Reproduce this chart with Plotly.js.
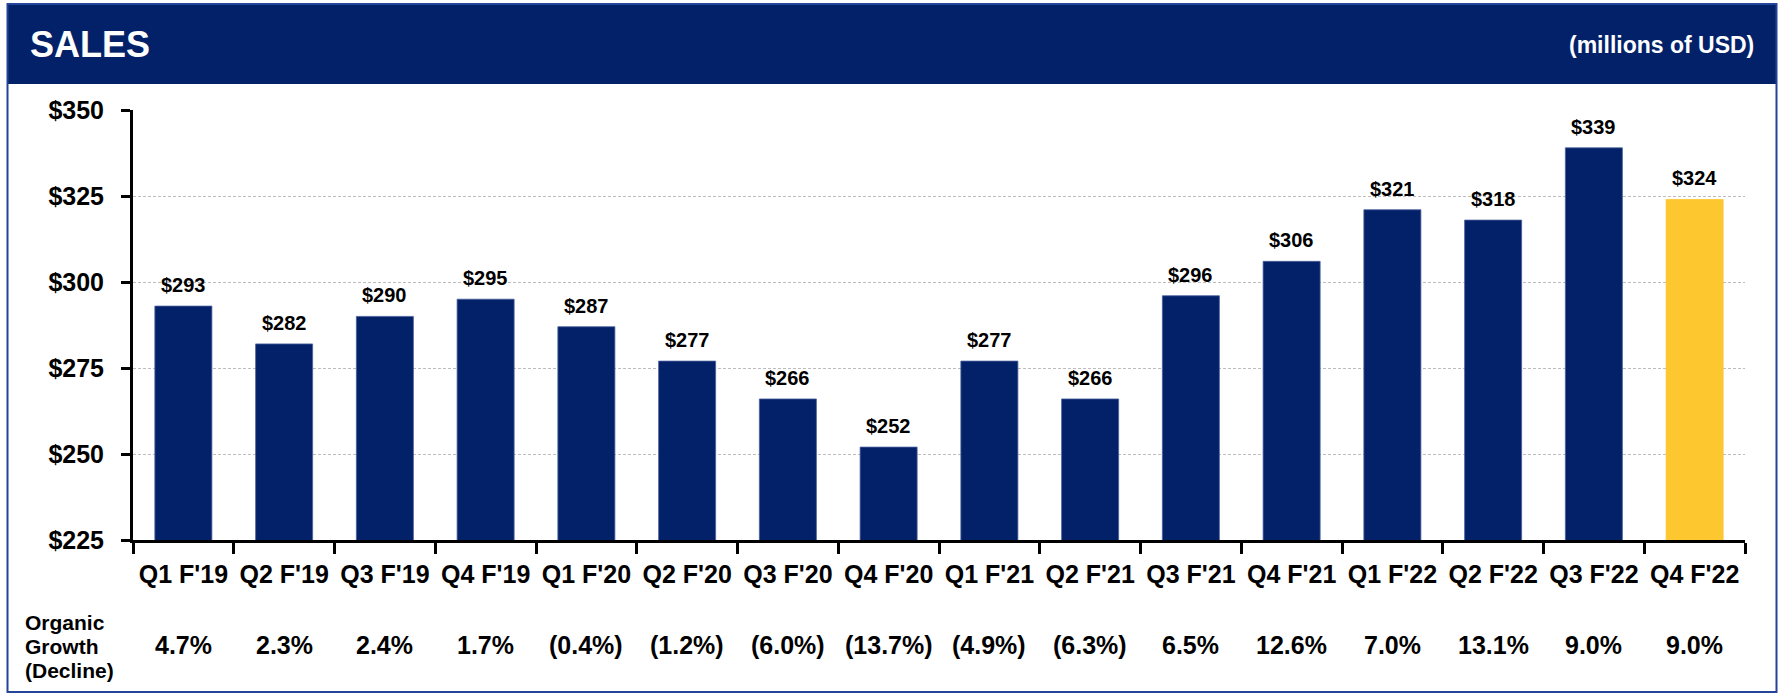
<!DOCTYPE html>
<html>
<head>
<meta charset="utf-8">
<script src="https://cdn.plot.ly/plotly-3.0.1.min.js"></script>
<style>
  html, body { margin: 0; padding: 0; background: #ffffff; }
  #chart { width: 1781px; height: 695px; }
</style>
</head>
<body>
<div id="chart"></div>
<script>
// ---- data ----
const categories = ["Q1 F'19", "Q2 F'19", "Q3 F'19", "Q4 F'19",
                    "Q1 F'20", "Q2 F'20", "Q3 F'20", "Q4 F'20",
                    "Q1 F'21", "Q2 F'21", "Q3 F'21", "Q4 F'21",
                    "Q1 F'22", "Q2 F'22", "Q3 F'22", "Q4 F'22"];
const sales = [293, 282, 290, 295, 287, 277, 266, 252, 277, 266, 296, 306, 321, 318, 339, 324];
const organicGrowth = ["4.7%", "2.3%", "2.4%", "1.7%", "(0.4%)", "(1.2%)", "(6.0%)", "(13.7%)",
                       "(4.9%)", "(6.3%)", "6.5%", "12.6%", "7.0%", "13.1%", "9.0%", "9.0%"];
const yTickValues = [225, 250, 275, 300, 325, 350];
const rowLabelLines = ["Organic", "Growth", "(Decline)"];

// ---- style ----
const NAVY = '#032169';
const GOLD = '#FCC72F';
const ARIAL = '"Liberation Sans", Arial, sans-serif';

const W = 1781, H = 695;
const M = { l: 133, r: 36, t: 110, b: 155 };
const PW = W - M.l - M.r, PH = H - M.t - M.b;
const px = x => (x - M.l) / PW;          // pixel x -> paper x
const py = y => (H - M.b - y) / PH;      // pixel y -> paper y

const barColors = categories.map((c, i) => i === categories.length - 1 ? GOLD : NAVY);
const barLines = categories.map((c, i) => i === categories.length - 1 ? GOLD : '#4a5f9c');

const trace = {
  type: 'bar',
  x: categories,
  y: sales,
  marker: { color: barColors, line: { color: barLines, width: 0.8 } },
  hoverinfo: 'x+y',
  showlegend: false
};

const annotations = [];
// value labels above bars
categories.forEach((c, i) => {
  annotations.push({
    x: c, y: sales[i], xref: 'x', yref: 'y',
    text: '$' + sales[i],
    showarrow: false, xanchor: 'center', yanchor: 'bottom', yshift: 8,
    font: { family: ARIAL, size: 20, color: '#000000', weight: 'bold' }
  });
});
// organic growth row
categories.forEach((c, i) => {
  annotations.push({
    x: c, y: py(645), xref: 'x', yref: 'paper',
    text: organicGrowth[i],
    showarrow: false, xanchor: 'center', yanchor: 'middle',
    font: { family: ARIAL, size: 25, color: '#000000', weight: 'bold' }
  });
});
const rowLabelY = [622, 646, 670];
rowLabelLines.forEach((t, i) => {
  annotations.push({
    x: px(23), y: py(rowLabelY[i]), xref: 'paper', yref: 'paper',
    text: t, align: 'left',
    showarrow: false, xanchor: 'left', yanchor: 'middle',
    font: { family: ARIAL, size: 21, color: '#000000', weight: 'bold' }
  });
});
annotations.push({
  x: px(28), y: py(45), xref: 'paper', yref: 'paper',
  text: 'SALES', showarrow: false, xanchor: 'left', yanchor: 'middle',
  font: { family: ARIAL, size: 36, color: '#ffffff', weight: 'bold' }
});
annotations.push({
  x: px(1756), y: py(45), xref: 'paper', yref: 'paper',
  text: '(millions of USD)', showarrow: false, xanchor: 'right', yanchor: 'middle',
  font: { family: ARIAL, size: 23, color: '#ffffff', weight: 'bold' }
});

const shapes = [
  { type: 'rect', xref: 'paper', yref: 'paper', layer: 'below',
    x0: px(7), x1: px(1777), y0: py(84), y1: py(4),
    fillcolor: '#022169', line: { width: 0 } },
  { type: 'rect', xref: 'paper', yref: 'paper', layer: 'above',
    x0: px(7.5), x1: px(1776.5), y0: py(692), y1: py(4),
    fillcolor: 'rgba(0,0,0,0)', line: { color: '#24449a', width: 2 } }
];

const layout = {
  width: W, height: H,
  margin: M,
  paper_bgcolor: '#ffffff',
  plot_bgcolor: '#ffffff',
  bargap: 0.434,
  showlegend: false,
  xaxis: {
    type: 'category',
    tickson: 'boundaries',
    tickangle: 0,
    ticks: 'outside', ticklen: 11, tickwidth: 3, tickcolor: '#000000',
    showline: true, linecolor: '#000000', linewidth: 3,
    showgrid: false, zeroline: false,
    tickfont: { family: ARIAL, size: 25, color: '#000000', weight: 'bold' },
    ticklabelstandoff: 10
  },
  yaxis: {
    range: [225, 350],
    tickvals: yTickValues,
    ticktext: yTickValues.map(v => '$' + v),
    ticks: 'outside', ticklen: 9, tickwidth: 3, tickcolor: '#000000',
    showline: true, linecolor: '#000000', linewidth: 3,
    showgrid: true, gridcolor: '#bdbdbd', gridwidth: 1, griddash: '3px,2px',
    zeroline: false,
    tickfont: { family: ARIAL, size: 25, color: '#000000', weight: 'bold' },
    ticklabelstandoff: 12
  },
  annotations: annotations,
  shapes: shapes
};

Plotly.newPlot('chart', [trace], layout, { displayModeBar: false, staticPlot: true });
</script>
</body>
</html>
